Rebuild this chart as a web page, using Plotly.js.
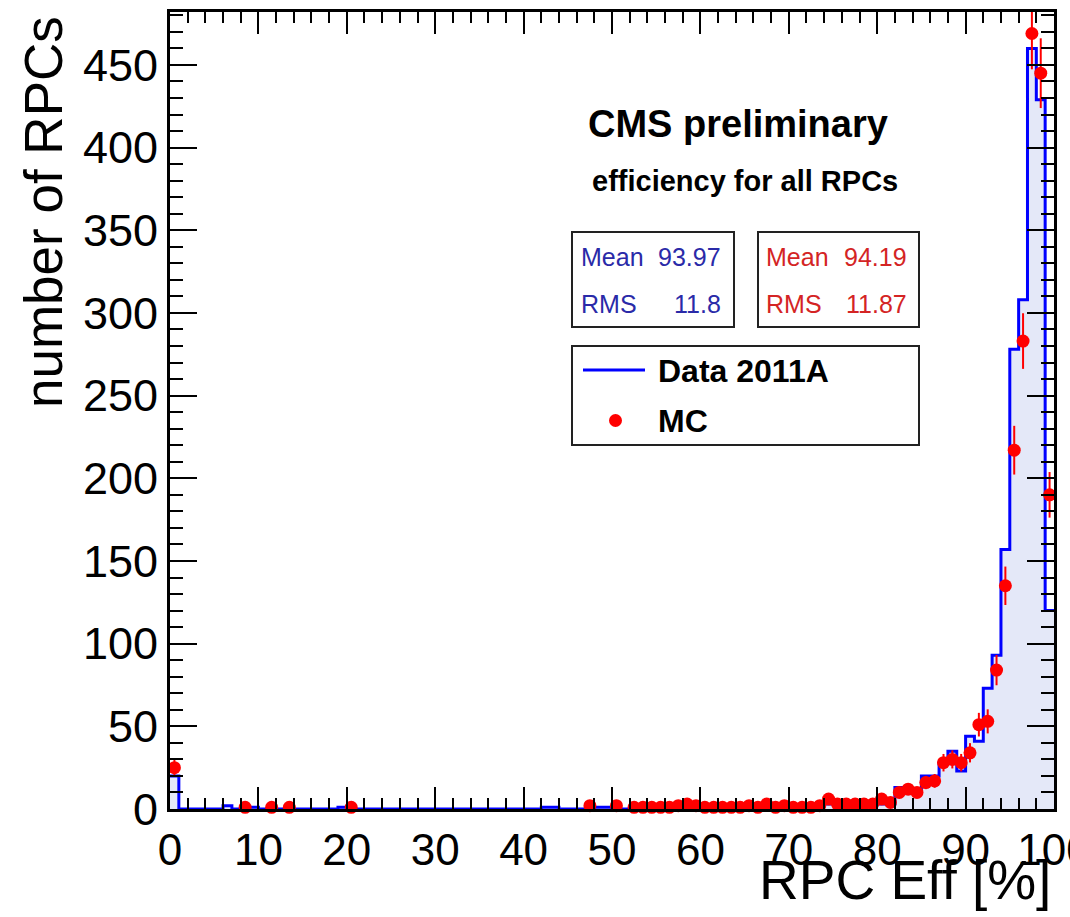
<!DOCTYPE html>
<html>
<head>
<meta charset="utf-8">
<script src="https://cdn.plot.ly/plotly-3.0.1.min.js"></script>
<style>
  html, body { margin: 0; padding: 0; background: #ffffff; }
  #chart { width: 1070px; height: 917px; }
</style>
</head>
<body>
<div id="chart"></div>
<script>
// ---- data (bin i covers [i, i+1) percent) ----
const binEdgesStart = 0;
const binWidth = 1;
const dataCounts = [
  20, 0, 0, 0, 0, 0, 2, 0, 0, 1,
  0, 0, 0, 0, 0, 0, 0, 0, 0, 1,
  0, 0, 0, 0, 0, 0, 0, 0, 0, 0,
  0, 0, 0, 0, 0, 0, 0, 0, 0, 0,
  0, 0, 1, 1, 0, 0, 0, 0, 1, 1,
  0, 0, 1, 1, 1, 1, 1, 1, 2, 1,
  1, 1, 1, 1, 1, 1, 1, 1, 1, 2,
  2, 1, 2, 2, 3, 5, 3, 3, 3, 3,
  3, 3, 13, 11, 11, 20, 20, 28, 35, 23,
  44, 41, 73, 93, 157, 278, 308, 460, 429, 120
];
const mcCounts = [
  25, 0, 0, 0, 0, 0, 0, 0, 1, 0,
  0, 1, 0, 1, 0, 0, 0, 0, 0, 0,
  1, 0, 0, 0, 0, 0, 0, 0, 0, 0,
  0, 0, 0, 0, 0, 0, 0, 0, 0, 0,
  0, 0, 0, 0, 0, 0, 0, 2, 0, 0,
  2, 0, 1, 1, 1, 1, 1, 2, 3, 2,
  1, 1, 1, 1, 1, 2, 1, 3, 1, 2,
  1, 1, 1, 2, 6, 3, 3, 3, 3, 3,
  6, 4, 10, 12, 10, 16, 17, 28, 30, 28,
  34, 51, 53, 84, 135, 217, 283, 469, 445, 190
];
const dataLabel = "Data 2011A";
const mcLabel = "MC";
const dataStats = { mean: "93.97", rms: "11.8" };
const mcStats = { mean: "94.19", rms: "11.87" };
const titleMain = "CMS preliminary";
const titleSub = "efficiency for all RPCs";
const xTitle = "RPC Eff [%]";
const yTitle = "number of RPCs";

// ---- build traces from data ----
const edgesX = [];
const stepY = [];
for (let i = 0; i < dataCounts.length; i++) {
  edgesX.push(binEdgesStart + i * binWidth);
  stepY.push(dataCounts[i]);
}
edgesX.push(binEdgesStart + dataCounts.length * binWidth);
stepY.push(dataCounts[dataCounts.length - 1]);

const mcX = [], mcY = [];
for (let i = 0; i < mcCounts.length; i++) {
  if (mcCounts[i] > 0) {
    mcX.push(binEdgesStart + (i + 0.5) * binWidth);
    mcY.push(mcCounts[i]);
  }
}

const traces = [
  {
    type: 'scatter', mode: 'lines', x: edgesX, y: stepY,
    line: { shape: 'hv', color: '#0000ff', width: 3 },
    fill: 'tozeroy', fillcolor: '#e4e8f8',
    hoverinfo: 'skip', showlegend: false
  },
  {
    type: 'scatter', mode: 'markers', x: mcX, y: mcY,
    marker: { color: '#ff0000', size: 13, symbol: 'circle' },
    error_y: { type: 'sqrt', color: '#ff0000', thickness: 2, width: 0 },
    cliponaxis: false,
    hoverinfo: 'skip', showlegend: false
  }
];

// ---- pixel -> paper helpers ----
const W = 1070, H = 917;
const M = { l: 170, r: 16, t: 12, b: 108 };
const PL = M.l, PR = W - M.r, PT = M.t, PB = H - M.b;
const px = x => (x - PL) / (PR - PL);
const py = y => (PB - y) / (PB - PT);

const font = 'Liberation Sans, Arial, Helvetica, sans-serif';
const blueTxt = '#2a2aa8';
const redTxt = '#d42424';

function ann(text, x, y, size, color, xanchor, opts) {
  return Object.assign({
    text: text, x: px(x), y: py(y), xref: 'paper', yref: 'paper',
    xanchor: xanchor, yanchor: 'middle', showarrow: false,
    font: { family: font, size: size, color: color }
  }, opts || {});
}

const annotations = [
  ann('<b>' + titleMain + '</b>', 738, 124, 38, '#000', 'center'),
  ann('<b>' + titleSub + '</b>', 745, 181, 29, '#000', 'center'),
  ann('Mean', 579, 257, 25, blueTxt, 'left'),
  ann(dataStats.mean, 723, 257, 25, blueTxt, 'right'),
  ann('RMS', 579, 304, 25, blueTxt, 'left'),
  ann(dataStats.rms, 723, 304, 25, blueTxt, 'right'),
  ann('Mean', 764, 257, 25, redTxt, 'left'),
  ann(mcStats.mean, 909, 257, 25, redTxt, 'right'),
  ann('RMS', 764, 304, 25, redTxt, 'left'),
  ann(mcStats.rms, 909, 304, 25, redTxt, 'right'),
  ann('<b>' + dataLabel + '</b>', 656, 371, 32, '#000', 'left'),
  ann('<b>' + mcLabel + '</b>', 656, 421, 32, '#000', 'left'),
  ann(xTitle, 1053, 880, 55, '#000', 'right'),
  ann(yTitle, 43, 14, 53, '#000', 'center', { textangle: -90, yanchor: 'top' })
];

const boxLine = { color: '#222', width: 2 };
const shapes = [
  { type: 'rect', xref: 'paper', yref: 'paper', x0: px(572), x1: px(734), y0: py(232), y1: py(327), line: boxLine },
  { type: 'rect', xref: 'paper', yref: 'paper', x0: px(758), x1: px(919), y0: py(232), y1: py(327), line: boxLine },
  { type: 'rect', xref: 'paper', yref: 'paper', x0: px(572), x1: px(919), y0: py(346), y1: py(445), line: boxLine },
  { type: 'line', xref: 'paper', yref: 'paper', x0: px(583), x1: px(645), y0: py(370), y1: py(370), line: { color: '#0000ff', width: 3 } },
  { type: 'circle', xref: 'paper', yref: 'paper', x0: px(609), x1: px(622), y0: py(414), y1: py(427), fillcolor: '#ff0000', line: { color: '#ff0000', width: 0 } }
];

const layout = {
  width: W, height: H,
  margin: M,
  paper_bgcolor: '#ffffff', plot_bgcolor: '#ffffff',
  showlegend: false,
  font: { family: font, color: '#000' },
  xaxis: {
    range: [0, 100], dtick: 10, tick0: 0,
    ticks: 'inside', ticklen: 22, tickwidth: 2, tickcolor: '#000',
    minor: { dtick: 2, ticks: 'inside', ticklen: 11, tickwidth: 2, tickcolor: '#000' },
    showline: true, linewidth: 3, linecolor: '#000', mirror: 'ticks',
    showgrid: false, zeroline: false,
    ticklabeloverflow: 'allow',
    tickfont: { family: font, size: 44, color: '#000' }
  },
  yaxis: {
    range: [0, 482], dtick: 50, tick0: 0,
    ticks: 'inside', ticklen: 27, tickwidth: 2, tickcolor: '#000',
    minor: { dtick: 10, ticks: 'inside', ticklen: 13, tickwidth: 2, tickcolor: '#000' },
    showline: true, linewidth: 3, linecolor: '#000', mirror: 'ticks',
    showgrid: false, zeroline: false,
    ticklabeloverflow: 'allow',
    tickfont: { family: font, size: 45, color: '#000' }
  },
  annotations: annotations,
  shapes: shapes
};

Plotly.newPlot('chart', traces, layout, { staticPlot: true, displayModeBar: false });
</script>
</body>
</html>
